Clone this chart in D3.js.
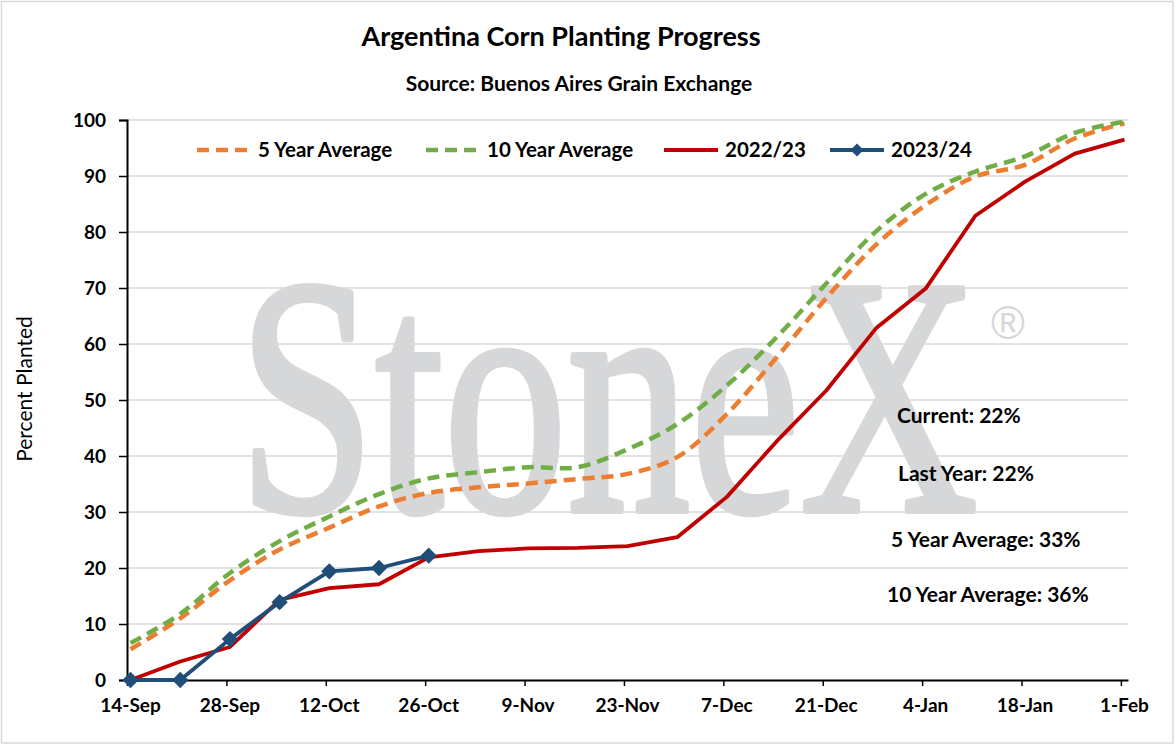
<!DOCTYPE html>
<html>
<head>
<meta charset="utf-8">
<script src="https://cdn.jsdelivr.net/npm/d3@7"></script>
<style>
  body { margin: 0; background: #fff; }
  text { font-family: Lato, "Open Sans", sans-serif; }
</style>
</head>
<body>
<div id="chart"></div>
<script>
(function () {

// weekly reports, 14-Sep through 1-Feb
const weeks = d3.timeDay.range(new Date(2023, 8, 14), new Date(2024, 1, 2), 7);

// percent planted
const fiveYear = [5.5, 11.0, 17.8, 23.3, 27.2, 31.0, 33.4, 34.4, 35.1, 35.9, 36.8,
  39.8, 47.5, 57.6, 68.2, 77.7, 84.8, 89.9, 92.0, 96.7, 99.4];
const tenYear = [6.6, 11.8, 19.1, 24.8, 29.2, 33.2, 36.0, 37.1, 38.0, 38.0, 41.2,
  45.7, 52.6, 61.2, 70.8, 80.1, 86.8, 90.8, 93.5, 97.7, 99.7];
const lastYear = [0, 3.3, 5.9, 14.3, 16.4, 17.1, 21.9, 23.0, 23.5, 23.6, 23.9,
  25.5, 32.7, 42.6, 51.7, 62.8, 69.9, 82.9, 89.0, 94.0, 96.5];
const thisYear = [0, 0, 7.3, 13.9, 19.4, 20.0, 22.2];

const seriesNames = ["5 Year Average", "10 Year Average", "2022/23", "2023/24"];
const notes = ["Current: 22%", "Last Year: 22%", "5 Year Average: 33%", "10 Year Average: 36%"];
const yTicks = [0, 10, 20, 30, 40, 50, 60, 70, 80, 90, 100];

const W = 1176, H = 746;
const margin = {top: 120, right: 48, bottom: 66, left: 127};

const svg = d3.select("#chart").append("svg")
    .attr("width", W)
    .attr("height", H);

// chart border
svg.append("rect")
    .attr("x", 1.5).attr("y", 1.5)
    .attr("width", W - 4.5).attr("height", H - 4.5)
    .attr("fill", "#fff")
    .attr("stroke", "#d9d9d9")
    .attr("stroke-width", 1.5);

const x = d3.scaleTime()
    .domain([new Date(2023, 8, 14), new Date(2024, 1, 2)])
    .range([margin.left, W - margin.right]);
const y = d3.scaleLinear()
    .domain([0, 100])
    .range([H - margin.bottom, margin.top]);

// points sit in the middle of their day (date axis, between tick marks)
const px = d => x(d3.timeHour.offset(d, 12));

// watermark (condensed serif, thickened a bit with a same-colour stroke)
svg.append("text")
    .attr("x", 238).attr("y", 511)
    .attr("textLength", 740)
    .attr("lengthAdjust", "spacingAndGlyphs")
    .style("font-family", "'Liberation Serif', 'DejaVu Serif', serif")
    .style("font-size", "340px")
    .attr("fill", "#d6d7d9")
    .attr("stroke", "#d6d7d9")
    .attr("stroke-width", 6)
    .attr("stroke-linejoin", "round")
    .text("StoneX");
svg.append("text")
    .attr("x", 1008).attr("y", 339)
    .attr("text-anchor", "middle")
    .style("font-family", "'Liberation Sans', sans-serif")
    .style("font-size", "46px")
    .attr("fill", "#d6d7d9")
    .text("®");

// gridlines
svg.append("g")
  .selectAll("line")
  .data(yTicks.filter(d => d > 0))
  .join("line")
    .attr("x1", margin.left).attr("x2", W - margin.right)
    .attr("y1", d => y(d)).attr("y2", d => y(d))
    .attr("stroke", "#d9d9d9")
    .attr("stroke-width", 1.5);

// y axis
const yAxis = svg.append("g")
    .attr("transform", "translate(" + margin.left + ",0)")
    .call(d3.axisLeft(y).tickValues(yTicks).tickSize(8).tickPadding(13));
yAxis.select(".domain").attr("stroke", "#000").attr("stroke-width", 2);
yAxis.selectAll(".tick line").attr("stroke", "#000").attr("stroke-width", 1.5);
yAxis.selectAll(".tick text")
    .style("font-size", "19px").style("font-weight", "bold").attr("fill", "#000");

// x axis
const xTicks = d3.timeDay.range(new Date(2023, 8, 14), new Date(2024, 1, 2), 14);
const xAxis = svg.append("g")
    .attr("transform", "translate(0," + y(0) + ")")
    .call(d3.axisBottom(x).tickValues(xTicks).tickFormat(d3.timeFormat("%-d-%b"))
      .tickSize(6).tickSizeOuter(0).tickPadding(13));
xAxis.select(".domain").attr("stroke", "#000").attr("stroke-width", 2);
xAxis.selectAll(".tick line").attr("stroke", "#000").attr("stroke-width", 1.5);
xAxis.selectAll(".tick text")
    .attr("dx", 3)
    .style("font-size", "19px").style("font-weight", "bold").attr("fill", "#000");

// y axis title
svg.append("text")
    .attr("transform", "translate(32," + (margin.top + 269) + ") rotate(-90)")
    .attr("text-anchor", "middle")
    .style("font-size", "21px")
    .attr("fill", "#000")
    .text("Percent Planted");

// lines
const series = [
  {name: seriesNames[0], values: fiveYear, color: "#ED7D31", dash: "12,7", smooth: true},
  {name: seriesNames[1], values: tenYear, color: "#70AD47", dash: "12,7", smooth: true},
  {name: seriesNames[2], values: lastYear, color: "#C00000", dash: null, smooth: false},
  {name: seriesNames[3], values: thisYear, color: "#1F4E79", dash: null, smooth: false, marker: true}
];

series.forEach(s => {
  const line = d3.line()
      .x((d, i) => px(weeks[i]))
      .y(d => y(d))
      .curve(s.smooth ? d3.curveCatmullRom : d3.curveLinear);
  svg.append("path")
      .datum(s.values)
      .attr("d", line)
      .attr("fill", "none")
      .attr("stroke", s.color)
      .attr("stroke-width", s.smooth ? 4.5 : 3.8)
      .attr("stroke-dasharray", s.dash)
      .attr("stroke-linejoin", "round");
  if (s.marker) {
    svg.append("g")
      .selectAll("path")
      .data(s.values)
      .join("path")
        .attr("transform", (d, i) => "translate(" + px(weeks[i]) + "," + y(d) + ")")
        .attr("d", d3.symbol(d3.symbolDiamond2, 170))
        .attr("fill", s.color);
  }
});

// legend
const legendX = [197, 426, 664, 830];
const legend = svg.append("g")
  .selectAll("g")
  .data(series)
  .join("g")
    .attr("transform", (d, i) => "translate(" + legendX[i] + ",150)");
legend.append("line")
    .attr("x1", 0).attr("x2", 54)
    .attr("stroke", d => d.color)
    .attr("stroke-width", d => d.smooth ? 4.5 : 4)
    .attr("stroke-dasharray", d => d.dash ? "12,7" : null);
legend.filter(d => d.marker).append("path")
    .attr("transform", "translate(27,0)")
    .attr("d", d3.symbol(d3.symbolDiamond2, 110))
    .attr("fill", d => d.color);
legend.append("text")
    .attr("x", 61).attr("y", 7)
    .style("font-size", "20.5px").style("font-weight", "bold")
    .attr("fill", "#000")
    .text(d => d.name);

// title
svg.append("text")
    .attr("x", 561).attr("y", 46)
    .attr("text-anchor", "middle")
    .style("font-size", "27px").style("font-weight", "bold")
    .text("Argentina Corn Planting Progress");
svg.append("text")
    .attr("x", 579).attr("y", 91)
    .attr("text-anchor", "middle")
    .style("font-size", "21px").style("font-weight", "bold")
    .text("Source: Buenos Aires Grain Exchange");

// notes
const noteX = [897, 898, 891, 887];
const noteY = [423, 481, 547, 602];
svg.append("g")
  .selectAll("text")
  .data(notes)
  .join("text")
    .attr("x", (d, i) => noteX[i])
    .attr("y", (d, i) => noteY[i])
    .style("font-size", "21px").style("font-weight", "bold")
    .attr("fill", "#000")
    .text(d => d);

})()
</script>
</body>
</html>
